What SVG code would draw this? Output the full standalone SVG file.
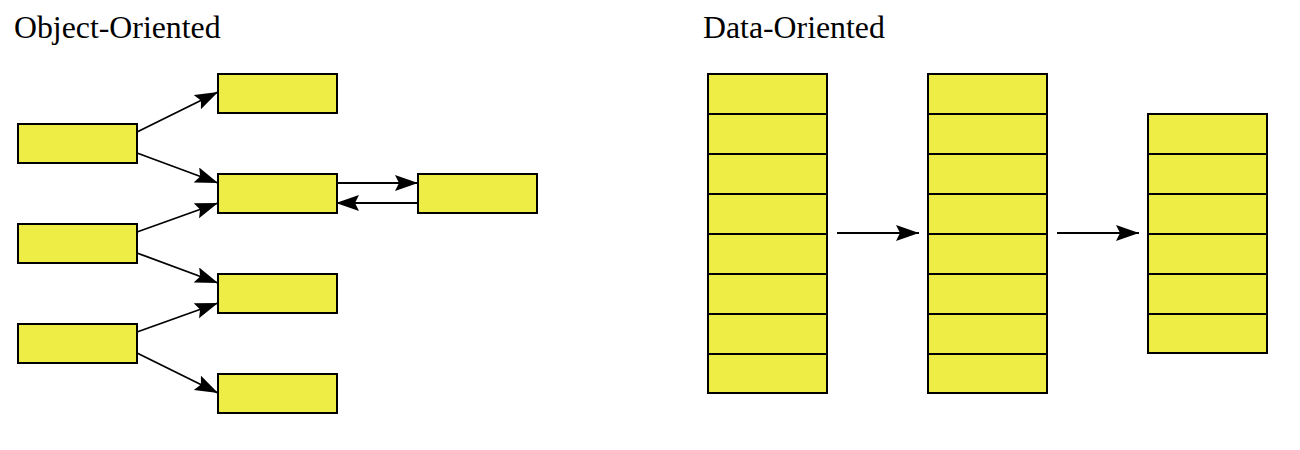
<svg xmlns="http://www.w3.org/2000/svg" width="1300" height="450" viewBox="0 0 1300 450">
<style>
.b{fill:#eded45;stroke:#000;stroke-width:2}
.c line{stroke:#000;stroke-width:1.8;fill:none}
.t{font-family:"Liberation Serif","Times New Roman",serif;font-size:31.8px;fill:#000}
</style>
<defs>
<marker id="ah" markerUnits="userSpaceOnUse" markerWidth="24" markerHeight="18" refX="23" refY="8" orient="auto">
<path d="M0,0 L23,8 L0,16 L4,8 z" fill="#000"/>
</marker>
</defs>
<rect width="1300" height="450" fill="#fff"/>
<text class="t" x="14" y="37.5">Object-Oriented</text>
<text class="t" x="703" y="37.5">Data-Oriented</text>
<g id="a1"><rect class="b" x="18" y="124" width="119" height="39"/></g>
<g id="a2"><rect class="b" x="18" y="224" width="119" height="39"/></g>
<g id="a3"><rect class="b" x="18" y="324" width="119" height="39"/></g>
<g id="b1"><rect class="b" x="218" y="74" width="119" height="39"/></g>
<g id="b2"><rect class="b" x="218" y="174" width="119" height="39"/></g>
<g id="b3"><rect class="b" x="218" y="274" width="119" height="39"/></g>
<g id="b4"><rect class="b" x="218" y="374" width="119" height="39"/></g>
<g id="c1"><rect class="b" x="418" y="174" width="119" height="39"/></g>
<g id="d1">
<rect class="b" x="708" y="74" width="119" height="319"/>
<path d="M708,114H827M708,154H827M708,194H827M708,234H827M708,274H827M708,314H827M708,354H827" stroke="#000" stroke-width="2"/>
</g>
<g id="d2">
<rect class="b" x="928" y="74" width="119" height="319"/>
<path d="M928,114H1047M928,154H1047M928,194H1047M928,234H1047M928,274H1047M928,314H1047M928,354H1047" stroke="#000" stroke-width="2"/>
</g>
<g id="d3">
<rect class="b" x="1148" y="114" width="119" height="239"/>
<path d="M1148,154H1267M1148,194H1267M1148,234H1267M1148,274H1267M1148,314H1267" stroke="#000" stroke-width="2"/>
</g>
<g class="c" id="connectors">
<line x1="137" y1="132" x2="218" y2="92" marker-end="url(#ah)"/>
<line x1="137" y1="153" x2="218" y2="183" marker-end="url(#ah)"/>
<line x1="137" y1="232" x2="218" y2="203" marker-end="url(#ah)"/>
<line x1="137" y1="253" x2="218" y2="283" marker-end="url(#ah)"/>
<line x1="137" y1="332" x2="218" y2="303" marker-end="url(#ah)"/>
<line x1="137" y1="353" x2="218" y2="393" marker-end="url(#ah)"/>
<line x1="337" y1="183" x2="418" y2="183" marker-end="url(#ah)"/>
<line x1="418" y1="203" x2="336" y2="203" marker-end="url(#ah)"/>
<line x1="837" y1="233" x2="919" y2="233" marker-end="url(#ah)"/>
<line x1="1057" y1="233" x2="1139" y2="233" marker-end="url(#ah)"/>
</g>
</svg>
